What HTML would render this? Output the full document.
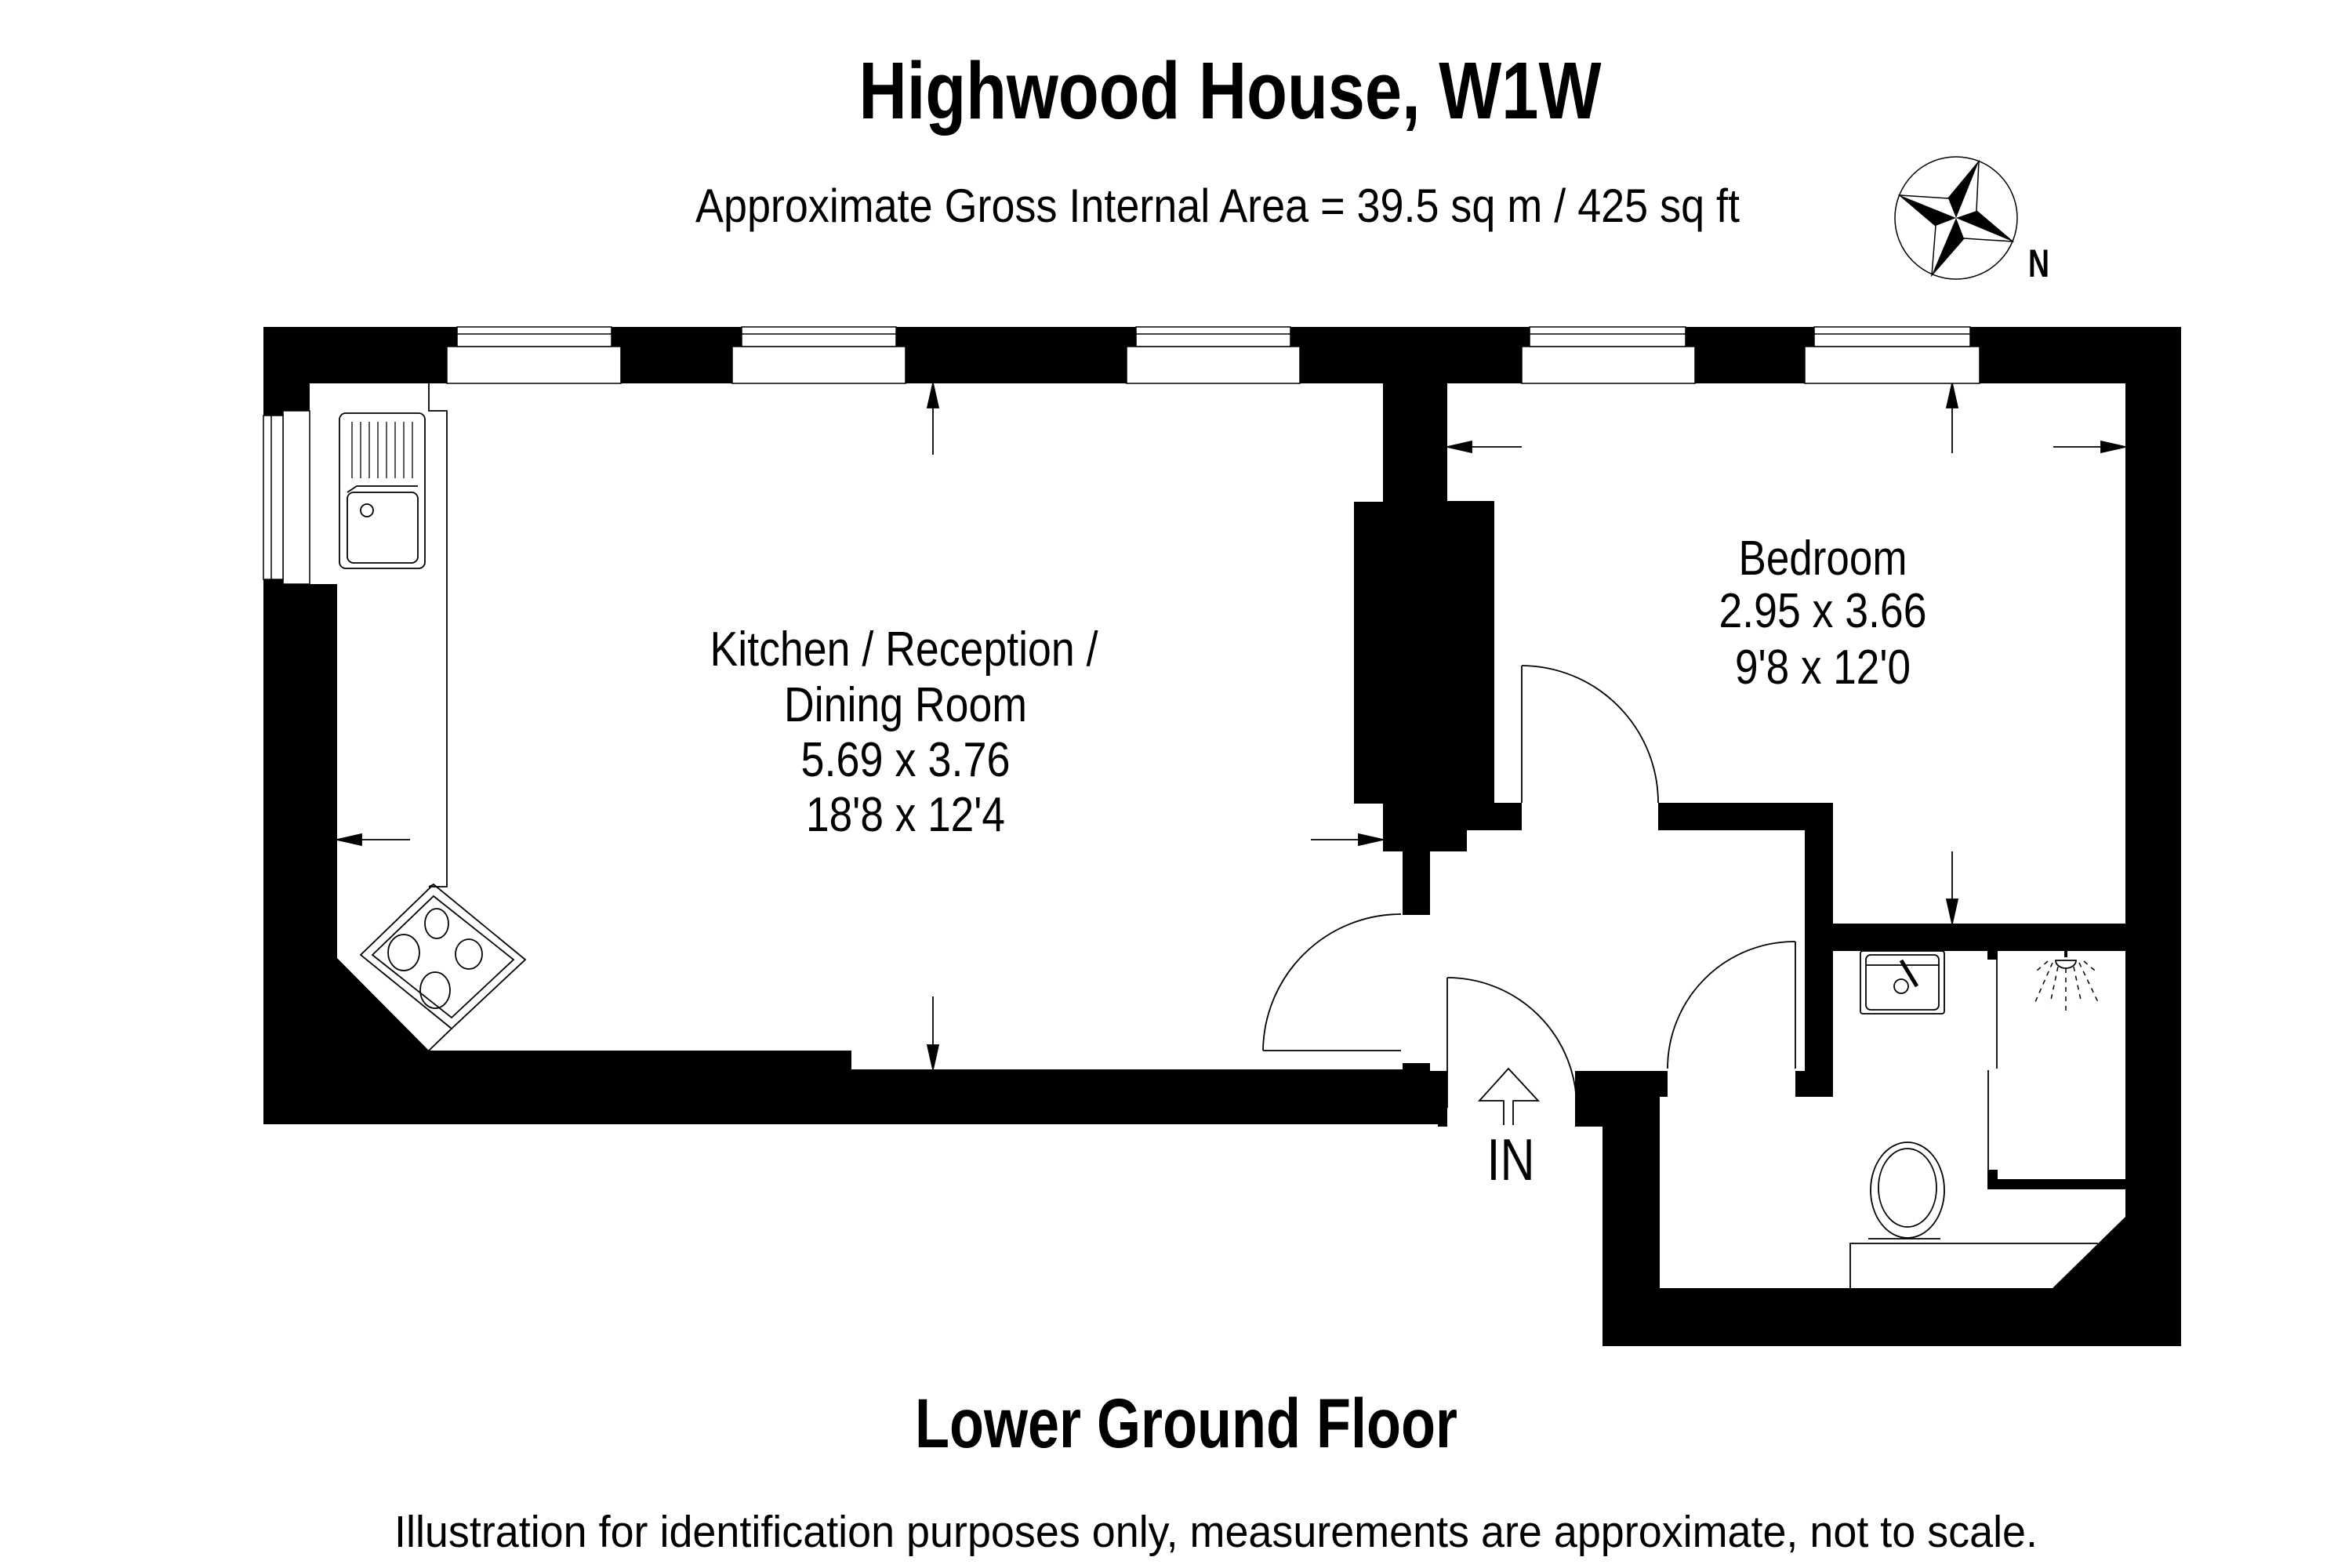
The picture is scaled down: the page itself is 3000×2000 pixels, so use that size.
<!DOCTYPE html>
<html><head><meta charset="utf-8"><style>html,body{margin:0;padding:0;background:#fff}svg{display:block}</style></head>
<body>
<svg width="3000" height="2000" viewBox="0 0 3000 2000" xmlns="http://www.w3.org/2000/svg" font-family="Liberation Sans, sans-serif">
<rect width="3000" height="2000" fill="#fff"/>
<text x="1569" y="151" font-size="103" font-weight="bold" text-anchor="middle" textLength="947" lengthAdjust="spacingAndGlyphs">Highwood House, W1W</text>
<text x="1553" y="283" font-size="60" text-anchor="middle" textLength="1332" lengthAdjust="spacingAndGlyphs">Approximate Gross Internal Area = 39.5 sq m / 425 sq ft</text>
<!-- compass -->
<circle cx="2495" cy="278" r="78" fill="none" stroke="#000" stroke-width="1.5"/>
<polygon points="2524,206 2521,269 2567,308 2505,304 2464,351 2469,288 2423,249 2485,253" fill="#fff" stroke="#000" stroke-width="1.5"/>
<polygon points="2495,278 2485,253 2524,206" fill="#000"/>
<polygon points="2495,278 2521,269 2567,308" fill="#000"/>
<polygon points="2495,278 2505,304 2464,351" fill="#000"/>
<polygon points="2495,278 2469,288 2423,249" fill="#000"/>
<text x="2587" y="353" font-size="50" font-weight="bold" textLength="27" lengthAdjust="spacingAndGlyphs">N</text>

<!-- footprint -->
<polygon points="336,417 2782,417 2782,1717 2044,1717 2044,1437 1834,1437 1834,1434 336,1434" fill="#000"/>
<!-- kitchen -->
<polygon points="395,489 1764,489 1764,640 1727,640 1727,1025 1764,1025 1764,1086 1789,1086 1789,1364 1086,1364 1086,1340 547,1340 430,1222 430,745 395,745" fill="#fff"/>
<rect x="1789" y="1167" width="40" height="189" fill="#fff"/>
<!-- hall -->
<rect x="1824" y="1059" width="478" height="307" fill="#fff"/>
<rect x="1824" y="1059" width="47" height="27" fill="#000"/>
<rect x="1846" y="1366" width="163" height="80" fill="#fff"/>
<!-- bedroom -->
<polygon points="1846,489 2711,489 2711,1178 2338,1178 2338,1024 1906,1024 1906,639 1846,639" fill="#fff"/>
<rect x="1941" y="1020" width="174" height="42" fill="#fff"/>
<!-- bathroom -->
<polygon points="2338,1213 2711,1213 2711,1552 2618,1643 2117,1643 2117,1399 2338,1399" fill="#fff"/>
<rect x="2127" y="1362" width="163" height="40" fill="#fff"/>

<!-- windows top -->
<g fill="#fff" stroke="#000" stroke-width="1.5">
<rect x="570" y="442" width="222" height="47"/><rect x="583" y="417" width="197" height="25"/><line x1="583" y1="426" x2="780" y2="426"/>
<rect x="934" y="442" width="221" height="47"/><rect x="946" y="417" width="197" height="25"/><line x1="946" y1="426" x2="1143" y2="426"/>
<rect x="1437" y="442" width="221" height="47"/><rect x="1449" y="417" width="197" height="25"/><line x1="1449" y1="426" x2="1646" y2="426"/>
<rect x="1941" y="442" width="221" height="47"/><rect x="1951" y="417" width="199" height="25"/><line x1="1951" y1="426" x2="2150" y2="426"/>
<rect x="2302" y="442" width="223" height="47"/><rect x="2314" y="417" width="199" height="25"/><line x1="2314" y1="426" x2="2513" y2="426"/>
<!-- left window -->
<rect x="361" y="524" width="34" height="221"/><rect x="336" y="530" width="25" height="209"/><line x1="346" y1="530" x2="346" y2="739"/>
</g>

<g fill="none" stroke="#000" stroke-width="1.8">
<!-- worktop -->
<polyline points="547,489 547,524 570,524 570,1131 547,1131"/>
<!-- sink -->
<rect x="433" y="527" width="109" height="198" rx="8"/>
<rect x="443" y="628" width="90" height="90" rx="8"/>
<circle cx="468" cy="651" r="8"/>
<polyline points="443,628 455,620 533,620"/>
<g stroke-width="1.3">
<line x1="449" y1="538" x2="449" y2="610"/><line x1="460" y1="538" x2="460" y2="610"/><line x1="471" y1="538" x2="471" y2="610"/>
<line x1="482" y1="538" x2="482" y2="610"/><line x1="493" y1="538" x2="493" y2="610"/><line x1="504" y1="538" x2="504" y2="610"/>
<line x1="515" y1="538" x2="515" y2="610"/><line x1="526" y1="538" x2="526" y2="610"/>
</g>
<!-- stove -->
<polygon points="553,1128 670,1224 576,1312 460,1218"/>
<polygon points="553,1143 655,1224 576,1298 475,1218"/>
<line x1="547" y1="1131" x2="553" y2="1128"/>
<line x1="547" y1="1340" x2="576" y2="1312"/>
<ellipse cx="557" cy="1178" rx="15" ry="19"/>
<ellipse cx="515" cy="1215" rx="20" ry="23"/>
<ellipse cx="598" cy="1217" rx="17" ry="19"/>
<ellipse cx="555" cy="1263" rx="19" ry="23"/>
<!-- doors -->
<line x1="1787" y1="1340" x2="1611" y2="1340"/><path d="M1611,1340 A176,176 0 0 1 1787,1166"/>
<line x1="1941" y1="1024" x2="1941" y2="849"/><path d="M1941,849 A175,175 0 0 1 2115,1024"/>
<line x1="2290" y1="1363" x2="2290" y2="1201"/><path d="M2290,1201 A162,162 0 0 0 2127,1363"/>
<line x1="1846" y1="1413" x2="1846" y2="1247"/><path d="M1846,1247 A165,165 0 0 1 2011,1413"/>
<!-- IN arrow -->
<polyline points="1918,1435 1918,1404 1887,1404 1924,1363 1962,1404 1930,1404 1930,1435"/>
<!-- bathroom fittings -->
<rect x="2373" y="1213" width="107" height="80" rx="3"/>
<rect x="2380" y="1218" width="93" height="70" rx="6"/>
<line x1="2380" y1="1231" x2="2473" y2="1231"/>
<circle cx="2425" cy="1258" r="9"/>
<line x1="2425" y1="1225" x2="2445" y2="1258" stroke-width="5"/>
<line x1="2547" y1="1213" x2="2547" y2="1363"/>
<line x1="2536" y1="1365" x2="2536" y2="1505"/>
<ellipse cx="2433" cy="1518" rx="47" ry="61"/>
<ellipse cx="2433" cy="1515" rx="37" ry="50"/>
<line x1="2383" y1="1580" x2="2475" y2="1580"/>
<polyline points="2360,1643 2360,1586 2676,1586"/>
<path d="M2622,1225 a13,10 0 0 0 26,0 z"/>
<g stroke-dasharray="6,6" stroke-width="1.5">
<line x1="2635" y1="1235" x2="2635" y2="1290"/>
<line x1="2625" y1="1233" x2="2615" y2="1280"/>
<line x1="2645" y1="1233" x2="2655" y2="1280"/>
<line x1="2618" y1="1228" x2="2596" y2="1278"/>
<line x1="2652" y1="1228" x2="2676" y2="1278"/>
<line x1="2612" y1="1226" x2="2598" y2="1238"/>
<line x1="2658" y1="1226" x2="2672" y2="1238"/>
</g>
</g>
<rect x="2535" y="1213" width="13" height="11" fill="#000"/>
<rect x="2535" y="1492" width="13" height="13" fill="#000"/>
<rect x="2535" y="1504" width="176" height="13" fill="#000"/>
<rect x="2633" y="1213" width="4" height="8" fill="#000"/>

<!-- dimension arrows -->
<g stroke="#000" stroke-width="1.8" fill="#000">
<line x1="1190" y1="520" x2="1190" y2="580"/><polygon points="1190,489 1183,520 1197,520"/>
<line x1="1190" y1="1271" x2="1190" y2="1333"/><polygon points="1190,1364 1183,1333 1197,1333"/>
<line x1="461" y1="1071" x2="523" y2="1071"/><polygon points="430,1071 461,1064 461,1078"/>
<line x1="1672" y1="1071" x2="1733" y2="1071"/><polygon points="1764,1071 1733,1064 1733,1078"/>
<line x1="1877" y1="570" x2="1941" y2="570"/><polygon points="1846,570 1877,563 1877,577"/>
<line x1="2490" y1="520" x2="2490" y2="578"/><polygon points="2490,489 2483,520 2497,520"/>
<line x1="2619" y1="570" x2="2680" y2="570"/><polygon points="2711,570 2680,563 2680,577"/>
<line x1="2490" y1="1086" x2="2490" y2="1147"/><polygon points="2490,1178 2483,1147 2497,1147"/>
</g>

<!-- labels -->
<g font-size="62" text-anchor="middle">
<text x="1153" y="849" textLength="495" lengthAdjust="spacingAndGlyphs">Kitchen / Reception /</text>
<text x="1155" y="920" textLength="310" lengthAdjust="spacingAndGlyphs">Dining Room</text>
<text x="1155" y="990" textLength="267" lengthAdjust="spacingAndGlyphs">5.69 x 3.76</text>
<text x="1155" y="1060" textLength="254" lengthAdjust="spacingAndGlyphs">18'8 x 12'4</text>
<text x="2325" y="733" textLength="215" lengthAdjust="spacingAndGlyphs">Bedroom</text>
<text x="2325" y="800" textLength="265" lengthAdjust="spacingAndGlyphs">2.95 x 3.66</text>
<text x="2325" y="872" textLength="224" lengthAdjust="spacingAndGlyphs">9'8 x 12'0</text>
<text x="1927" y="1505" font-size="75" textLength="61" lengthAdjust="spacingAndGlyphs">IN</text>
</g>
<text x="1513" y="1846" font-size="89" font-weight="bold" text-anchor="middle" textLength="692" lengthAdjust="spacingAndGlyphs">Lower Ground Floor</text>
<text x="1551" y="1973" font-size="57" text-anchor="middle" textLength="2096" lengthAdjust="spacingAndGlyphs">Illustration for identification purposes only, measurements are approximate, not to scale.</text>
</svg>
</body></html>
